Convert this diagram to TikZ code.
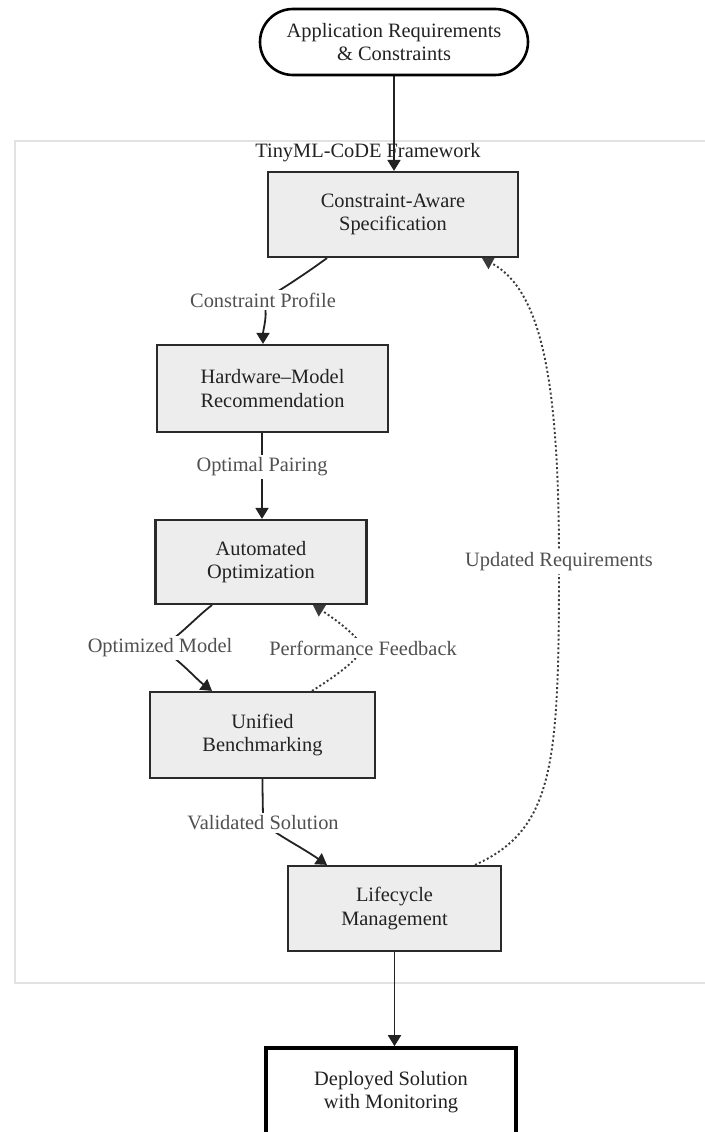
\documentclass[tikz,border=0pt]{standalone}
\usepackage{fontspec}
\setmainfont{Liberation Serif}
\usetikzlibrary{arrows.meta}

\definecolor{boxfill}{HTML}{EDEDED}
\definecolor{boxline}{HTML}{2A2A2A}
\definecolor{inktext}{HTML}{222222}
\definecolor{edgetext}{HTML}{505050}
\definecolor{edgeline}{HTML}{222222}
\definecolor{dotline}{HTML}{3A3A3A}
\definecolor{clusterline}{HTML}{E2E2E2}

\pgfdeclarelayer{back}
\pgfdeclarelayer{wires}
\pgfsetlayers{back,wires,main}

\begin{document}
\begin{tikzpicture}[x=1pt,y=-1pt,
  every node/.style={font=\fontsize{20.4}{23.5}\selectfont, align=center, inner sep=0pt},
  proc/.style={draw=boxline, line width=2.2pt, fill=boxfill, text=inktext},
  terminal/.style={draw=black, line width=2.6pt, fill=white, text=inktext, rounded corners=33pt},
  outcome/.style={draw=black, line width=3.6pt, fill=white, text=inktext},
  elabel/.style={text=edgetext, fill=white, inner xsep=2pt, inner ysep=3pt},
  flow/.style={draw=edgeline, line width=1.8pt, -{Triangle[length=11pt,width=13pt]}},
  feedback/.style={draw=dotline, line width=1.9pt, dash pattern=on 2pt off 2.4pt,
                   -{Triangle[length=11pt,width=13pt]}},
]
\useasboundingbox (0,0) rectangle (704,1132);

% framework cluster
\begin{pgfonlayer}{back}
  \draw[clusterline, line width=2pt] (15,141) rectangle (740,983);
  \node[text=inktext] (fwtitle) at (368,153) {TinyML-CoDE Framework};
\end{pgfonlayer}

% process nodes
\node[terminal, minimum width=268pt, minimum height=66pt] (req) at (394,42)
  {Application Requirements\\\& Constraints};
\node[proc, minimum width=250pt, minimum height=85pt] (spec) at (393,214.5)
  {Constraint-Aware\\Specification};
\node[proc, minimum width=231pt, minimum height=87pt] (hwmodel) at (272.5,388.5)
  {Hardware--Model\\Recommendation};
\node[proc, minimum width=211pt, minimum height=84pt] (opt) at (261,562)
  {Automated\\Optimization};
\node[proc, minimum width=225pt, minimum height=86pt] (bench) at (262.5,735)
  {Unified\\Benchmarking};
\node[proc, minimum width=213pt, minimum height=85pt] (life) at (394.5,908.5)
  {Lifecycle\\Management};
\node[outcome, minimum width=250pt, minimum height=88pt] (deploy) at (391,1092)
  {Deployed Solution\\with Monitoring};

% edge labels
\node[elabel] (lprofile) at (263,300) {Constraint Profile};
\node[elabel] (lpairing) at (262,467) {Optimal Pairing};
\node[elabel] (lmodel) at (160,648) {Optimized Model};
\node[elabel] (lperf) at (363,648) {Performance Feedback};
\node[elabel] (lvalid) at (263,823) {Validated Solution};
\node[elabel] (lupdate) at (559,562) {Updated Requirements};

% connectors
\begin{pgfonlayer}{wires}
  \draw[flow] (req.south) -- (req.south |- spec.north);
  \draw[flow] ([xshift=-66pt]spec.south) .. controls +(-22,16) and +(18,-10) .. (lprofile.center)
              .. controls +(6,12) and +(0,-14) .. ([xshift=-9.5pt]hwmodel.north);
  \draw[flow] (lpairing |- hwmodel.south) -- (lpairing |- opt.north);
  \draw[flow] ([xshift=-49pt]opt.south) .. controls +(-16,12) and +(20,-12) .. (lmodel.center)
              .. controls +(20,12) and +(-16,-12) .. ([xshift=-50.5pt]bench.north);
  \draw[feedback] ([xshift=49.5pt]bench.north) .. controls +(16,-10) and +(-6,14) .. (lperf.center)
              .. controls +(-6,-14) and +(16,10) .. ([xshift=52pt]opt.south);
  \draw[flow] (bench.south) .. controls +(0,18) and +(0,-14) .. (lvalid.center)
              .. controls +(14,12) and +(-26,-18) .. ([xshift=-67.5pt]life.north);
  \draw[feedback] ([xshift=80.5pt]life.north) .. controls +(80,-36) and +(0,200) .. (lupdate.center)
              .. controls +(0,-180) and +(60,32) .. ([xshift=89pt]spec.south);
  \draw[flow] (life.south) -- (life.south |- deploy.north);
\end{pgfonlayer}
\end{tikzpicture}
\end{document}
